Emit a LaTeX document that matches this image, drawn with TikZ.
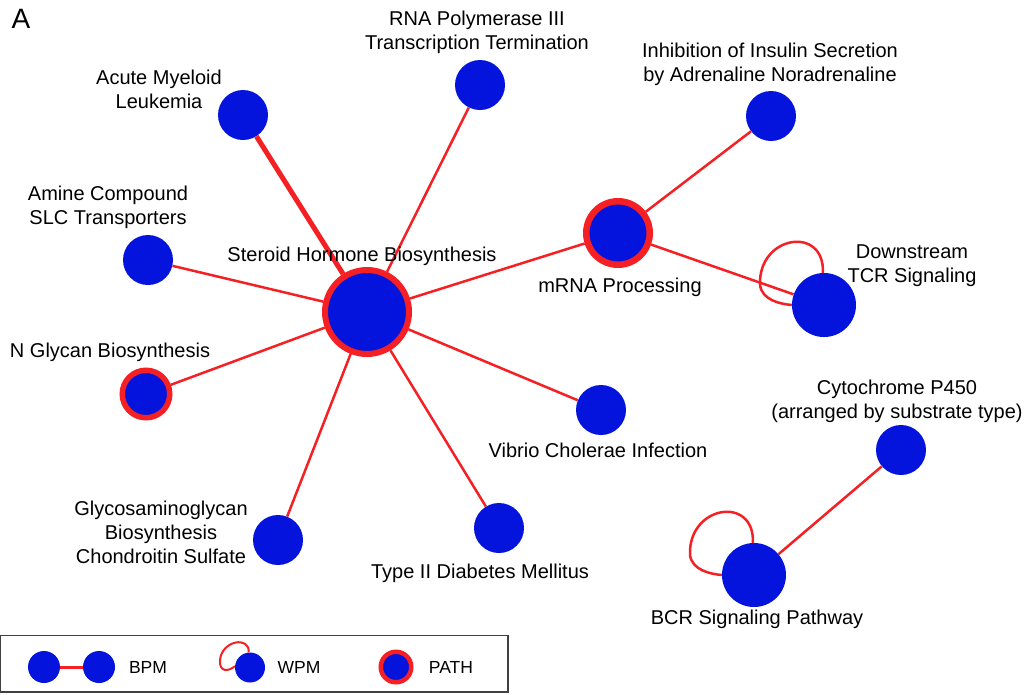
\documentclass[tikz,border=0pt]{standalone}
\usepackage{fontspec}
\setmainfont{Liberation Sans}
\usetikzlibrary{calc}
\definecolor{nblue}{RGB}{5,20,220}
\definecolor{ered}{RGB}{245,32,36}
\tikzset{
  lbl/.style={font=\fontsize{20}{24}\selectfont, align=center, inner sep=0pt},
  leglbl/.style={font=\fontsize{17.5}{20}\selectfont, inner sep=0pt},
  gene/.style={circle, fill=nblue, draw=none, inner sep=0pt, minimum size=#1},
  pathnode/.style={circle, fill=nblue, draw=ered, line width=6pt, inner sep=0pt, minimum size=#1},
  link/.style={draw=ered, line width=2.5pt},
  thicklink/.style={draw=ered, line width=5pt},
  selfloop/.style={draw=ered, line width=2.5pt}
}
\begin{document}
\begin{tikzpicture}[x=1pt,y=-1pt]
\useasboundingbox (0,0) rectangle (1028,694);
% nodes
\node[pathnode=84] (ster) at (367,312) {};
\node[gene=50] (aml) at (243,115) {};
\node[gene=50] (rna) at (480,85) {};
\node[gene=50] (amine) at (148,260) {};
\node[pathnode=47.5, line width=5.5pt] (ngly) at (146,394) {};
\node[gene=50] (glyco) at (278,540) {};
\node[gene=50] (t2d) at (499,528) {};
\node[gene=50] (vib) at (601,410) {};
\node[pathnode=63.5, line width=6.5pt] (mrna) at (618,233) {};
\node[gene=50] (inh) at (771,116) {};
\node[gene=64] (tcr) at (824,305) {};
\node[gene=50] (p450) at (901,450) {};
\node[gene=64] (bcr) at (754,575) {};
% edges
\draw[thicklink] (aml) -- (ster);
\draw[link] (rna) -- (ster);
\draw[link] (amine) -- (ster);
\draw[link] (ngly) -- (ster);
\draw[link] (glyco) -- (ster);
\draw[link] (t2d) -- (ster);
\draw[link] (vib) -- (ster);
\draw[link] (mrna) -- (ster);
\draw[link] (mrna) -- (inh);
\draw[link] (mrna) -- (tcr);
\draw[link] (p450) -- (bcr);
\draw[selfloop] (tcr.92) .. controls ($(tcr)+(1,-80)$) and ($(tcr)+(-66,-70)$) .. ($(tcr)+(-64,-20)$) .. controls ($(tcr)+(-62,-5)$) and ($(tcr)+(-44,-1)$) .. (tcr.180);
\draw[selfloop] (bcr.92) .. controls ($(bcr)+(1,-80)$) and ($(bcr)+(-66,-70)$) .. ($(bcr)+(-64,-20)$) .. controls ($(bcr)+(-62,-5)$) and ($(bcr)+(-44,-1)$) .. (bcr.180);
% labels
\node[font=\fontsize{28}{32}\selectfont, inner sep=0pt] (lA) at (21,19) {A};
\node[lbl] (lrna) at (477,32) {RNA Polymerase III\\Transcription Termination};
\node[lbl] (laml) at (159,89) {Acute Myeloid\\Leukemia};
\node[lbl] (linh) at (770,64) {Inhibition of Insulin Secretion\\by Adrenaline Noradrenaline};
\node[lbl] (lamine) at (108,207) {Amine Compound\\SLC Transporters};
\node[lbl] (lster) at (362,256) {Steroid Hormone Biosynthesis};
\node[lbl] (lmrna) at (620,287) {mRNA Processing};
\node[lbl] (ltcr) at (912,266) {Downstream\\TCR Signaling};
\node[lbl] (lngly) at (110,352) {N Glycan Biosynthesis};
\node[lbl] (lp450) at (897,401) {Cytochrome P450\\(arranged by substrate type)};
\node[lbl] (lvib) at (598,450) {Vibrio Cholerae Infection};
\node[lbl] (lglyco) at (161,532) {Glycosaminoglycan\\Biosynthesis\\Chondroitin Sulfate};
\node[lbl] (lt2d) at (480,573) {Type II Diabetes Mellitus};
\node[lbl] (lbcr) at (757,619) {BCR Signaling Pathway};
% legend
\draw[draw=black!75, line width=1.2pt] (0.6,635.5) rectangle (508,692);
\node[gene=32] (lg1) at (44,667) {};
\node[gene=32] (lg2) at (99,667) {};
\draw[draw=ered, line width=3pt] (lg1) -- (lg2);
\node[leglbl] (lbpm) at (148,667) {BPM};
\node[gene=30] (lg3) at (250,667.5) {};
\draw[draw=ered, line width=2pt] (lg3.95) .. controls (250,636) and (222,640) .. (220,660) .. controls (219,672) and (228,672) .. (lg3.175);
\node[leglbl] (lwpm) at (299,667) {WPM};
\node[pathnode=30.5, line width=4.5pt] (lg4) at (396,667) {};
\node[leglbl] (lpath) at (451,667) {PATH};
\end{tikzpicture}
\end{document}
